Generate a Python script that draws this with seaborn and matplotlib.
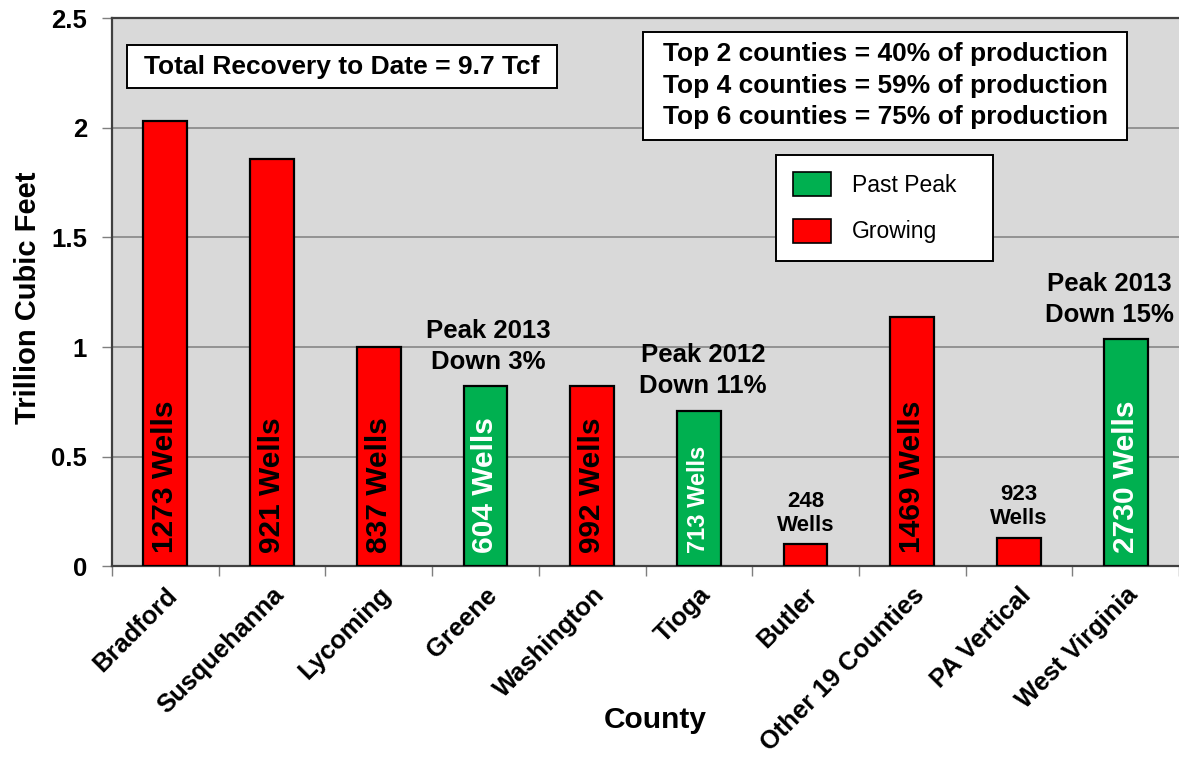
"""
Marcellus production by county - bar chart recreation
"""

import numpy as np
import pandas as pd
import matplotlib
matplotlib.use("Agg")
import matplotlib.pyplot as plt
import matplotlib.ticker as mticker
from matplotlib.patches import Patch, Rectangle
import seaborn as sns

# ---- data ----
counties = ["Bradford", "Susquehanna", "Lycoming", "Greene", "Washington",
            "Tioga", "Butler", "Other 19 Counties", "PA Vertical", "West Virginia"]
recovery_tcf = [2.03, 1.86, 1.00, 0.82, 0.82, 0.71, 0.10, 1.135, 0.13, 1.035]
status = ["Growing", "Growing", "Growing", "Past Peak", "Growing",
          "Past Peak", "Growing", "Growing", "Growing", "Past Peak"]
well_labels = ["1273 Wells", "921 Wells", "837 Wells", "604 Wells", "992 Wells",
               "713 Wells", "", "1469 Wells", "", "2730 Wells"]
top_notes = ["", "", "", "Peak 2013\nDown 3%", "", "Peak 2012\nDown 11%",
             "248\nWells", "", "923\nWells", "Peak 2013\nDown 15%"]
y_ticks = [0, 0.5, 1, 1.5, 2, 2.5]
share_lines = ["Top 2 counties = 40% of production",
               "Top 4 counties = 59% of production",
               "Top 6 counties = 75% of production"]
total_text = "Total Recovery to Date = 9.7 Tcf"

palette = {"Past Peak": "#00b050", "Growing": "#ff0000"}
legend_order = ["Past Peak", "Growing"]
# horizontal nudge (points) for the notes above bars, keeps the last one inside
note_dx = [0, 0, 0, 2, 0, 3, 0, 0, 0, -12]

sns.set_style("white")
plt.rcParams["font.family"] = ["Liberation Sans", "DejaVu Sans"]
plt.rcParams["text.color"] = "black"
plt.rcParams["axes.labelcolor"] = "black"
plt.rcParams["xtick.labelcolor"] = "black"
plt.rcParams["ytick.labelcolor"] = "black"

df = pd.DataFrame({"county": counties, "tcf": recovery_tcf, "status": status})

fig = plt.figure(figsize=(11.79, 7.59), dpi=100)
ax = fig.add_axes([0.095, 0.254, 0.905, 0.722])
ax.set_facecolor("#d9d9d9")

sns.barplot(
    data=df, x="county", y="tcf", hue="status", order=counties,
    palette=palette, dodge=False, width=0.41, saturation=1,
    edgecolor="black", linewidth=1.6, legend=False, ax=ax, zorder=3,
)

ax.set_xlim(-0.5, len(counties) - 0.5)
ax.set_ylim(0, 2.5)
ax.set_yticks(y_ticks)
ax.yaxis.set_major_formatter(mticker.FuncFormatter(lambda v, _: f"{v:g}"))
ax.yaxis.grid(True, color="#7f7f7f", linewidth=1.1, zorder=0)
ax.set_axisbelow(True)

# spines
for side in ["left", "bottom", "top"]:
    ax.spines[side].set_color("#404040")
    ax.spines[side].set_linewidth(1.6)
ax.spines["right"].set_visible(False)

# ticks
ax.tick_params(axis="y", which="major", direction="out", length=7, width=1,
               color="#7f7f7f", pad=11, labelsize=18.5, left=True)
for lbl in ax.get_yticklabels():
    lbl.set_fontweight("bold")
ax.set_xticks(range(len(counties)))
ax.set_xticklabels(counties, rotation=45, ha="right", rotation_mode="anchor",
                   fontsize=18.4, fontweight="bold")
ax.tick_params(axis="x", which="major", length=0, pad=12)
ax.set_xticks(np.arange(-0.5, len(counties)), minor=True)
ax.tick_params(axis="x", which="minor", direction="out", length=7, width=1,
               color="#7f7f7f", bottom=True)

ax.set_xlabel("County", fontsize=21.5, fontweight="bold")
ax.set_ylabel("Trillion Cubic Feet", fontsize=21, fontweight="bold")
ax.xaxis.set_label_coords(0.509, -0.255)
ax.yaxis.set_label_coords(-0.066, 0.49)

# well counts inside bars
for i, (lab, st) in enumerate(zip(well_labels, status)):
    if not lab:
        continue
    size = 17 if lab == "713 Wells" else 21.5
    ax.text(i, 0.06, lab, rotation=90, ha="center", va="bottom",
            fontsize=size, fontweight="bold",
            color="white" if st == "Past Peak" else "black", zorder=4)

# notes above bars
for i, note in enumerate(top_notes):
    if not note:
        continue
    small = "Wells" in note
    ax.annotate(note, (i, recovery_tcf[i]), xytext=(note_dx[i], 6 if small else 9),
                textcoords="offset points", ha="center", va="bottom",
                multialignment="center", fontsize=16 if small else 18.5,
                fontweight="bold", linespacing=1.2 if small else 1.35, zorder=4)

# text boxes
ax.add_patch(Rectangle((0.0141, 0.872), 0.403, 0.079, transform=ax.transAxes,
                       facecolor="white", edgecolor="black", linewidth=1.4, zorder=5))
ax.text(0.2156, 0.9115, total_text, transform=ax.transAxes, ha="center",
        va="center", fontsize=19, fontweight="bold", zorder=6)

ax.add_patch(Rectangle((0.498, 0.777), 0.453, 0.197, transform=ax.transAxes,
                       facecolor="white", edgecolor="black", linewidth=1.4, zorder=5))
ax.text(0.7245, 0.8765, "\n".join(share_lines), transform=ax.transAxes,
        ha="center", va="center", fontsize=19, fontweight="bold",
        linespacing=1.4, zorder=6)

# legend
handles = [Patch(facecolor=palette[k], edgecolor="black", linewidth=1.2)
           for k in legend_order]
leg = ax.legend(handles, legend_order, loc="upper left",
                bbox_to_anchor=(0.622, 0.55, 0.204, 0.2), mode="expand",
                borderaxespad=0, fontsize=16.5, frameon=True, fancybox=False,
                edgecolor="black", framealpha=1, borderpad=0.75,
                handlelength=1.66, handleheight=1.22, handletextpad=0.92,
                labelspacing=0.95)
leg.get_frame().set_linewidth(1.4)
leg.set_zorder(6)

plt.savefig("out.png", dpi=100)
plt.close()
